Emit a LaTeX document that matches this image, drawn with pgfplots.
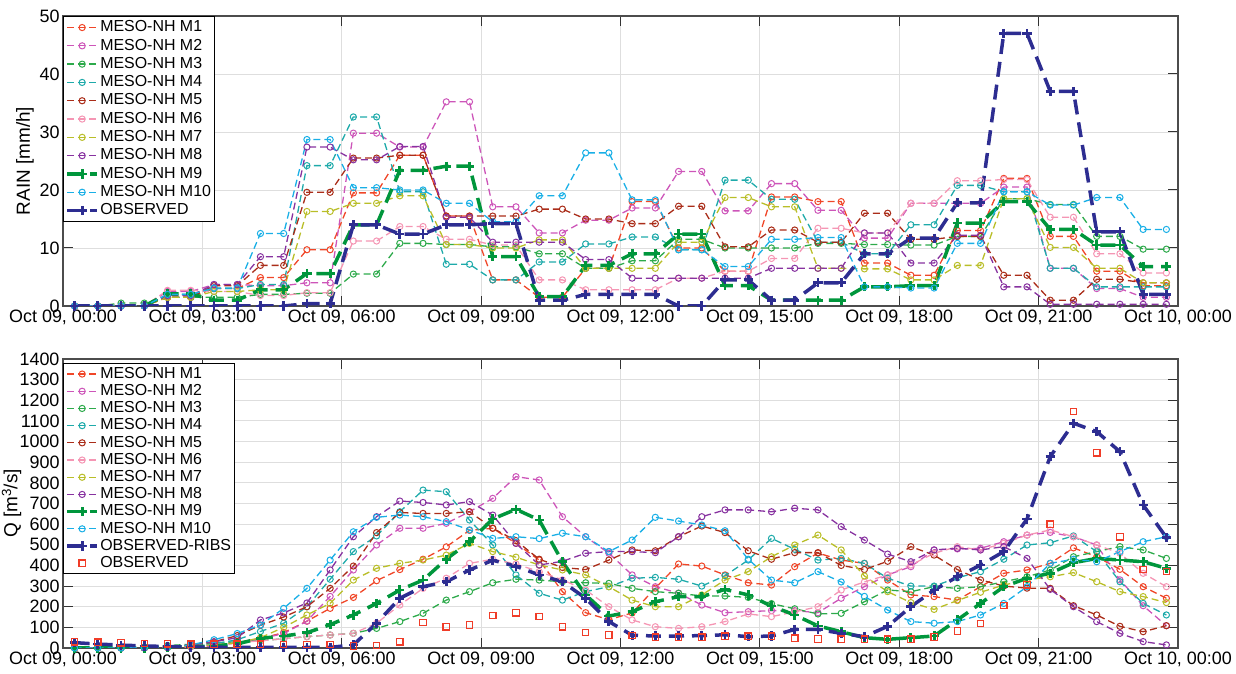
\documentclass[border=0pt]{standalone}
\usepackage{pgfplots}
\pgfplotsset{compat=1.18}
\usepackage{pgfplotstable}
\usepackage{fontspec}
\setmainfont{Liberation Sans}

\definecolor{cM1}{RGB}{240,70,40}
\definecolor{cM2}{RGB}{205,85,185}
\definecolor{cM3}{RGB}{45,170,75}
\definecolor{cM4}{RGB}{30,170,170}
\definecolor{cM5}{RGB}{170,45,25}
\definecolor{cM6}{RGB}{245,150,180}
\definecolor{cM7}{RGB}{185,190,40}
\definecolor{cM8}{RGB}{135,50,160}
\definecolor{cM9}{RGB}{0,150,60}
\definecolor{cM10}{RGB}{25,175,230}
\definecolor{cOBS}{RGB}{45,45,145}
\definecolor{cSQ}{RGB}{240,60,40}

\pgfplotstableread{
t M1 M2 M3 M4 M5 M6 M7 M8 M9 M10 OBS
0.25 0 0 0 0 0 0 0 0 0 0 0
0.75 0 0 0 0 0 0 0 0 0 0 0
1.25 0 0 0.5 0 0 0 0 0 0 0 0
1.75 0 0 0.5 0 0 0 0 0 0 0 0
2.25 1.5 2.5 1.5 2 1.5 2.7 1.5 1.8 2.1 2 0
2.75 1.5 2.5 1.5 2 1.5 2.7 1.5 1.8 2.1 2 0
3.25 3 3.7 1.5 3 3.5 2.5 2.5 3.7 1 3.1 0
3.75 3 3.7 1.5 3 3.5 2.5 2.5 3.7 1 3.1 0
4.25 4.9 3.5 2 3.7 7 1.8 2.8 8.5 2.8 12.5 0
4.75 4.9 3.5 2 3.7 7 1.8 2.8 8.5 2.8 12.5 0
5.25 9.7 4 2.2 24.2 19.6 2.3 16.3 27.4 5.6 28.7 0.4
5.75 9.7 4 2.2 24.2 19.6 2.3 16.3 27.4 5.6 28.7 0.4
6.25 19.5 29.8 5.5 32.6 25.5 11.2 17.7 25.2 14 20.4 14
6.75 19.5 29.8 5.5 32.6 25.5 11.2 17.7 25.2 14 20.4 14
7.25 26 27.4 10.8 19.7 26 13.7 19 27.5 23.4 20 12.4
7.75 26 27.4 10.8 19.7 26 13.7 19 27.5 23.4 20 12.4
8.25 15.5 35.2 10.6 7.2 15.5 11.5 10.6 15.3 24.1 17.7 14
8.75 15.5 35.2 10.6 7.2 15.5 11.5 10.6 15.3 24.1 17.7 14
9.25 4.5 17.1 10.2 4.5 15.5 10.5 10 11 8.5 14.5 14.2
9.75 4.5 17.1 10.2 4.5 15.5 10.5 10 11 8.5 14.5 14.2
10.25 1.5 12.6 9 7.6 16.7 4.5 11.4 11 1.6 19 1
10.75 1.5 12.6 9 7.6 16.7 4.5 11.4 11 1.6 19 1
11.25 6.5 14.8 6.5 10.7 15 2.8 6.5 8 7 26.4 2
11.75 6.5 14.8 6.5 10.7 15 2.8 6.5 8 7 26.4 2
12.25 18 16.9 7.8 11.9 14.2 2.8 6.5 4.8 9 18.3 2
12.75 18 16.9 7.8 11.9 14.2 2.8 6.5 4.8 9 18.3 2
13.25 10 23.2 11.5 9.7 17.2 4.8 11 4.8 12.4 9.7 0
13.75 10 23.2 11.5 9.7 17.2 4.8 11 4.8 12.4 9.7 0
14.25 6 16.4 10 21.7 10.2 6 18.7 4.8 3.5 6.8 4.5
14.75 6 16.4 10 21.7 10.2 6 18.7 4.8 3.5 6.8 4.5
15.25 18.8 21.1 10 18.4 13.1 8.2 17.1 6.5 1 11.5 1
15.75 18.8 21.1 10 18.4 13.1 8.2 17.1 6.5 1 11.5 1
16.25 18 16.5 10.8 11 11 13.4 6.5 6.5 1 11.8 4
16.75 18 16.5 10.8 11 11 13.4 6.5 6.5 1 11.8 4
17.25 7.4 11.7 10.6 9 16 12.6 6.4 12.6 3.3 3.3 9
17.75 7.4 11.7 10.6 9 16 12.6 6.4 12.6 3.3 3.3 9
18.25 5.3 17.7 10.5 14 11.5 17.7 4.5 7.4 3.5 3.1 11.7
18.75 5.3 17.7 10.5 14 11.5 17.7 4.5 7.4 3.5 3.1 11.7
19.25 13 17.7 12 20.8 12 21.6 7 12.2 14.3 10.8 17.8
19.75 13 17.7 12 20.8 12 21.6 7 12.2 14.3 10.8 17.8
20.25 22 20.5 18.5 19.7 5.3 21.8 18.5 3.3 18 19.7 47
20.75 22 20.5 18.5 19.7 5.3 21.8 18.5 3.3 18 19.7 47
21.25 12 6.5 17.5 6.5 1 15.3 10.1 0.3 13.2 17.4 37
21.75 12 6.5 17.5 6.5 1 15.3 10.1 0.3 13.2 17.4 37
22.25 6 3 12 3.3 4.6 9 6.5 0.3 10.5 18.7 12.8
22.75 6 3 12 3.3 4.6 9 6.5 0.3 10.5 18.7 12.8
23.25 3.5 1.5 9.8 3.3 4 5.7 4 0.3 6.8 13.2 2
23.75 3.5 1.5 9.8 3.3 4 5.7 4 0.3 6.8 13.2 2
}\rain

\pgfplotstableread{
t M1 M2 M3 M4 M5 M6 M7 M8 M9 M10 RIBS OBS
0.25 0 0 0 0 0 0 0 0 0 0 26 30
0.75 0 0 0 0 0 0 0 0 0 0 19 28
1.25 0 0 0 0 0 0 0 0 0 0 14 25
1.75 0 0 5 0 0 0 0 0 0 2 10 22
2.25 3 2 12 3 5 3 3 5 2 5 7 20
2.75 8 5 18 10 15 8 8 15 5 15 5 18
3.25 15 10 25 20 30 15 15 30 10 40 4 18
3.75 25 25 30 40 60 25 25 50 20 70 3 18
4.25 45 45 35 80 110 35 50 136 47 111 3 18
4.75 75 70 45 120 150 45 100 170 58 192 3 16
5.25 130 130 55 200 200 55 160 218 74 289 3 16
5.75 192 250 63 333 289 63 216 378 113 426 3 16
6.25 245 378 71 467 397 71 329 539 160 563 15 10
6.75 326 499 95 543 559 120 386 636 216 633 120 12
7.25 380 580 128 660 656 208 410 712 281 644 241 30
7.75 430 580 168 765 652 289 426 705 329 636 297 123
8.25 490 604 232 757 652 338 450 693 430 612 321 103
8.75 570 660 273 620 660 410 507 709 515 572 378 111
9.25 580 725 316 499 580 430 467 644 625 531 425 157
9.75 507 830 333 354 520 407 440 507 672 539 396 171
10.25 426 814 329 265 430 370 402 402 620 530 354 152
10.75 273 636 321 232 390 330 378 420 418 556 321 103
11.25 171 539 316 273 380 281 354 459 257 539 241 76
11.75 137 459 313 297 426 200 297 467 155 467 128 63
12.25 170 354 289 338 475 136 232 467 176 523 62 60
12.75 290 297 273 342 471 103 200 462 224 633 58 52
13.25 407 266 265 333 539 95 200 539 249 615 58 52
13.75 397 208 252 300 591 103 257 636 249 596 60 52
14.25 354 171 252 350 559 128 329 669 284 568 64 57
14.75 316 176 245 426 471 165 370 669 257 430 55 57
15.25 305 181 215 531 430 152 442 660 203 329 58 57
15.75 394 181 190 478 462 175 499 677 160 316 90 47
16.25 460 171 165 426 462 200 547 669 107 370 90 44
16.75 426 241 168 434 400 281 475 588 79 320 71 43
17.25 410 297 224 410 380 320 349 523 50 250 55 43
17.75 329 354 281 338 420 354 273 455 42 184 105 43
18.25 257 394 273 300 491 402 220 418 50 128 200 43
18.75 249 475 297 300 450 459 187 475 58 120 281 53
19.25 232 480 289 340 380 491 230 483 136 128 345 82
19.75 297 483 297 370 330 475 270 475 216 160 402 118
20.25 362 515 321 430 300 507 305 491 297 216 467 205
20.75 378 547 345 499 290 547 330 434 338 297 625 306
21.25 410 560 378 510 289 572 345 284 362 410 927 600
21.75 485 539 442 543 205 539 365 200 413 430 1089 1145
22.25 442 499 467 467 160 499 321 128 434 418 1048 946
22.75 381 330 491 321 105 459 273 71 426 467 951 539
23.25 297 205 475 216 79 362 249 31 418 515 693 381
23.75 241 108 434 160 108 297 220 15 386 539 535 370
}\flow

\pgfplotsset{
  mlthin/.style={color=#1, line width=1.3bp, dash pattern=on 7bp off 4bp,
    mark=o, mark size=3.1bp, mark options={solid, line width=1bp}},
  mlthick/.style={color=#1, line width=3.5bp, dash pattern=on 15bp off 8bp,
    mark=+, mark size=4.6bp, mark options={solid, line width=2.8bp}},
  sqlegend/.style={legend image code/.code={\draw[##1] plot coordinates {(15bp,0bp)};}},
  myaxis/.style={
    scale only axis, width=1115bp, anchor=south west,
    xmin=0, xmax=24, xtick={0,3,...,24},
    xticklabels={{Oct 09, 00:00},{Oct 09, 03:00},{Oct 09, 06:00},{Oct 09, 09:00},{Oct 09, 12:00},{Oct 09, 15:00},{Oct 09, 18:00},{Oct 09, 21:00},{Oct 10, 00:00}},
    grid=major, major grid style={draw=black!13, line width=0.9bp},
    axis line style={draw=black!70, line width=1.1bp},
    tick style={draw=black!80, line width=1bp},
    major tick length=10bp,
    tick label style={font=\fontsize{18}{18}\selectfont},
    /pgf/number format/assume math mode=true,
    /pgf/number format/1000 sep={},
    legend cell align=left,
    legend image code/.code={\draw[mark repeat=2,mark phase=2,##1] plot coordinates {(0bp,0bp) (15bp,0bp) (30bp,0bp)};},
  },
}

\begin{document}
\begin{tikzpicture}
\path[use as bounding box] (0bp,0bp) rectangle (1236bp,674bp);

\begin{axis}[myaxis, at={(63bp,368bp)}, height=290bp,
  ymin=0, ymax=50, ytick={0,10,...,50},
  ylabel={RAIN [mm/h]},
  ylabel style={at={(axis description cs:-0.034,0.5)}, anchor=center, font=\fontsize{19}{19}\selectfont},
  legend style={at={(0,1)}, anchor=north west, draw=black, line width=0.8bp, fill=white,
    inner sep=2bp, font=\fontsize{16}{16}\selectfont,
    nodes={text height=12bp, text depth=3.5bp, inner sep=1.4bp}},
]
\addplot[mlthin=cM1] table[x=t,y=M1]{\rain}; \addlegendentry{MESO-NH M1}
\addplot[mlthin=cM2] table[x=t,y=M2]{\rain}; \addlegendentry{MESO-NH M2}
\addplot[mlthin=cM3] table[x=t,y=M3]{\rain}; \addlegendentry{MESO-NH M3}
\addplot[mlthin=cM4] table[x=t,y=M4]{\rain}; \addlegendentry{MESO-NH M4}
\addplot[mlthin=cM5] table[x=t,y=M5]{\rain}; \addlegendentry{MESO-NH M5}
\addplot[mlthin=cM6] table[x=t,y=M6]{\rain}; \addlegendentry{MESO-NH M6}
\addplot[mlthin=cM7] table[x=t,y=M7]{\rain}; \addlegendentry{MESO-NH M7}
\addplot[mlthin=cM8] table[x=t,y=M8]{\rain}; \addlegendentry{MESO-NH M8}
\addplot[mlthick=cM9] table[x=t,y=M9]{\rain}; \addlegendentry{MESO-NH M9}
\addplot[mlthin=cM10] table[x=t,y=M10]{\rain}; \addlegendentry{MESO-NH M10}
\addplot[mlthick=cOBS] table[x=t,y=OBS]{\rain}; \addlegendentry{OBSERVED}
\end{axis}

\begin{axis}[myaxis, at={(63bp,26bp)}, height=289bp,
  ymin=0, ymax=1400, ytick={0,100,...,1400},
  ylabel={Q [m\textsuperscript{3}/s]},
  ylabel style={at={(axis description cs:-0.046,0.5)}, anchor=center, font=\fontsize{19}{19}\selectfont},
  legend style={at={(0,0.986)}, anchor=north west, draw=black, line width=0.8bp, fill=white,
    inner sep=2bp, font=\fontsize{16}{16}\selectfont,
    nodes={text height=11.5bp, text depth=3bp, inner sep=1.35bp}},
]
\addplot[mlthin=cM1] table[x=t,y=M1]{\flow}; \addlegendentry{MESO-NH M1}
\addplot[mlthin=cM2] table[x=t,y=M2]{\flow}; \addlegendentry{MESO-NH M2}
\addplot[mlthin=cM3] table[x=t,y=M3]{\flow}; \addlegendentry{MESO-NH M3}
\addplot[mlthin=cM4] table[x=t,y=M4]{\flow}; \addlegendentry{MESO-NH M4}
\addplot[mlthin=cM5] table[x=t,y=M5]{\flow}; \addlegendentry{MESO-NH M5}
\addplot[mlthin=cM6] table[x=t,y=M6]{\flow}; \addlegendentry{MESO-NH M6}
\addplot[mlthin=cM7] table[x=t,y=M7]{\flow}; \addlegendentry{MESO-NH M7}
\addplot[mlthin=cM8] table[x=t,y=M8]{\flow}; \addlegendentry{MESO-NH M8}
\addplot[mlthick=cM9] table[x=t,y=M9]{\flow}; \addlegendentry{MESO-NH M9}
\addplot[mlthin=cM10] table[x=t,y=M10]{\flow}; \addlegendentry{MESO-NH M10}
\addplot[mlthick=cOBS] table[x=t,y=RIBS]{\flow}; \addlegendentry{OBSERVED-RIBS}
\addplot[only marks, mark=square, mark size=3.2bp, color=cSQ, mark options={line width=1.2bp}, sqlegend]
  table[x=t,y=OBS]{\flow}; \addlegendentry{OBSERVED}
\end{axis}
\end{tikzpicture}
\end{document}
